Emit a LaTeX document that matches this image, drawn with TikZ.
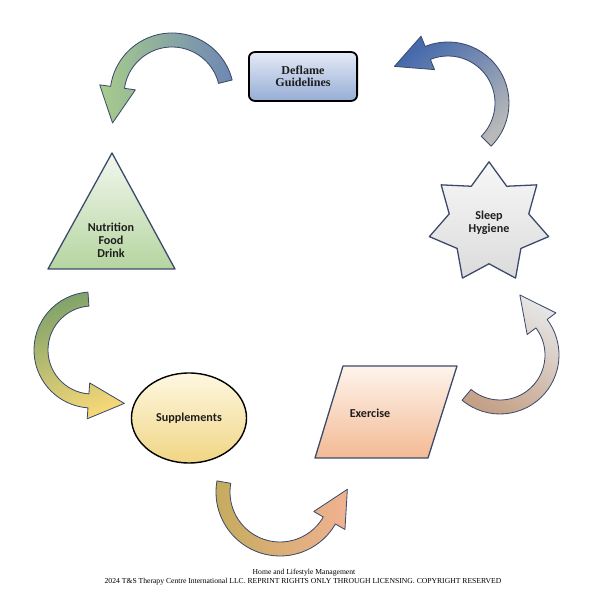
\documentclass[tikz,border=0pt]{standalone}
\usepackage{fontspec}
\setmainfont{Liberation Serif}
\newfontfamily\lblfont{Carlito}
\usetikzlibrary{shapes.geometric,calc}

\definecolor{edgeblue}{HTML}{3B4A6B}
\definecolor{txtgray}{HTML}{1E1E1E}

% curved block arrow: centre, radius, start angle, end angle, colours
\def\sw{7}
\def\hw{18}
\def\hl{36}
\newcommand{\cyclearrow}[5]{%
  \path[arrowline,#5]
    ($(#1)+(#3:{#2+\sw})$) arc[start angle=#3, end angle=#4, radius=#2+\sw]
    -- ($(#1)+(#4:{#2+\hw})$)
    -- ($(#1)+(#4:#2)+({#4+90}:\hl)$)
    -- ($(#1)+(#4:{#2-\hw})$)
    -- ($(#1)+(#4:{#2-\sw})$)
    arc[start angle=#4, end angle=#3, radius=#2-\sw] -- cycle;}

\begin{document}
\begin{tikzpicture}[
    x=0.85pt, y=0.85pt,
    every node/.style={inner sep=1pt},
    lbl/.style={font=\lblfont\bfseries\fontsize{10.3}{11}\selectfont, align=center, text=txtgray},
    shapeline/.style={draw=edgeblue, line width=1.1pt, line join=round},
    arrowline/.style={draw=edgeblue, line width=0.7pt, line join=round},
    foot/.style={font=\fontsize{6.5}{7}\selectfont, text=black}
]

\useasboundingbox (0,0) rectangle (594,600);

% Deflame guidelines
\node[rectangle, rounded corners=5pt, draw=black, line width=1.5pt,
      top color={rgb,255:red,228;green,234;blue,246}, bottom color={rgb,255:red,150;green,173;blue,214},
      minimum width=92pt, minimum height=41.5pt, align=center,
      font=\bfseries\fontsize{10.3}{10.5}\selectfont, text=txtgray]
      (deflame) at (303,523.5) {Deflame\\Guidelines};

% nutrition triangle
\path[shapeline, top color={rgb,255:red,243;green,247;blue,238},
      bottom color={rgb,255:red,181;green,213;blue,160}]
      (112,447) -- (175,331) -- (48,331) -- cycle;
\node[lbl] (nutrition) at (111,360) {Nutrition\\Food\\Drink};

% sleep star
\node[star, star points=7, star point ratio=1.5, minimum size=104pt,
      shapeline, top color=gray!6, bottom color=gray!28, lbl]
      (sleep) at (489,377) {Sleep\\Hygiene};

% supplements ellipse
\node[ellipse, minimum width=97.8pt, minimum height=76.5pt, draw=black, line width=1.2pt,
      top color={rgb,255:red,254;green,248;blue,225},
      bottom color={rgb,255:red,240;green,213;blue,132}, lbl]
      (supplements) at (189,182) {Supplements};

% exercise parallelogram
\path[shapeline, top color={rgb,255:red,254;green,244;blue,236},
      bottom color={rgb,255:red,243;green,186;blue,148}]
      (343,234) -- (457,234) -- (428,142) -- (315,142) -- cycle;
\node[lbl] (exercise) at (370,187) {Exercise};

% arrows round the cycle
\cyclearrow{172,505}{55}{14}{172}{left color={rgb,255:red,168;green,204;blue,140},
    middle color=blue!6!white, right color={rgb,255:red,110;green,135;blue,181}}
\cyclearrow{448,497}{54}{-45}{112}{top color={rgb,255:red,70;green,106;blue,172},
    middle color=gray!20, bottom color=gray!55, shading angle=40}
\cyclearrow{92,250}{51}{94}{266}{top color={rgb,255:red,128;green,163;blue,106},
    middle color={rgb,255:red,190;green,220;blue,170}, bottom color={rgb,255:red,245;green,215;blue,120}, shading angle=20}
\cyclearrow{280,108}{57}{170}{330}{left color={rgb,255:red,196;green,171;blue,92},
    middle color={rgb,255:red,250;green,240;blue,200}, right color={rgb,255:red,240;green,178;blue,145}}
\cyclearrow{500,245}{52}{230}{397}{top color=gray!20,
    middle color=gray!45, bottom color={rgb,255:red,196;green,160;blue,134}, shading angle=-30}

% footer
\node[foot] (home) at (304,27) {Home and Lifestyle Management};
\node[foot] (rights) at (303,18) {2024 T\&S Therapy Centre International LLC. REPRINT RIGHTS ONLY THROUGH LICENSING. COPYRIGHT RESERVED};

\end{tikzpicture}
\end{document}
